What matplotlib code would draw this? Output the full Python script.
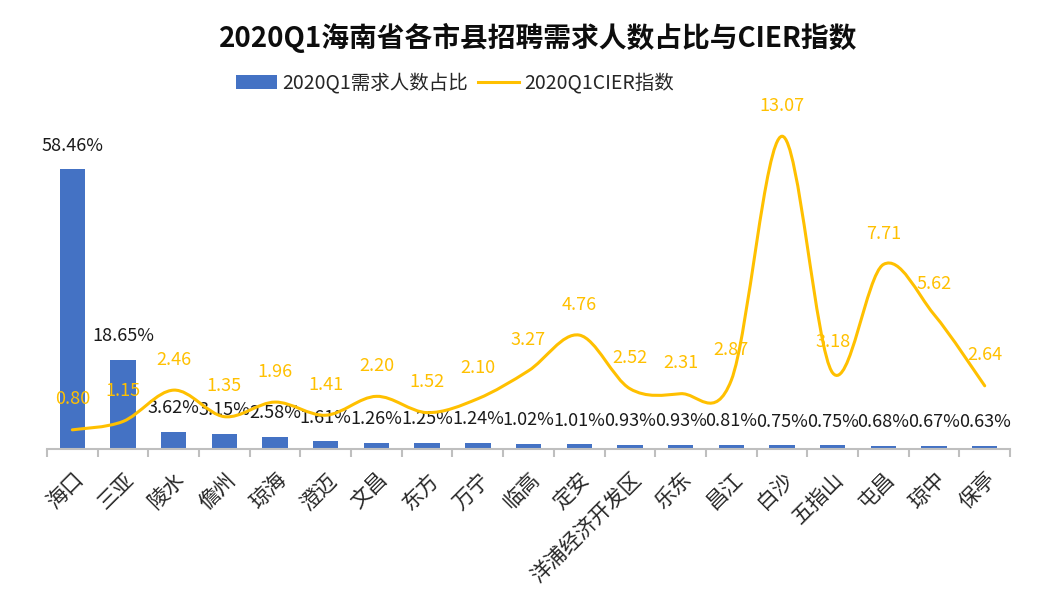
import matplotlib
matplotlib.use("Agg")
import matplotlib.pyplot as plt
from matplotlib.path import Path
from matplotlib.patches import PathPatch
from matplotlib.lines import Line2D
from matplotlib.patches import Patch

plt.rcParams['font.family'] = ['Noto Sans CJK SC', 'DejaVu Sans']

categories = ["海口", "三亚", "陵水", "儋州", "琼海", "澄迈", "文昌", "东方", "万宁", "临高",
              "定安", "洋浦经济开发区", "乐东", "昌江", "白沙", "五指山", "屯昌", "琼中", "保亭"]
demand_share = [58.46, 18.65, 3.62, 3.15, 2.58, 1.61, 1.26, 1.25, 1.24, 1.02,
                1.01, 0.93, 0.93, 0.81, 0.75, 0.75, 0.68, 0.67, 0.63]
cier_index = [0.80, 1.15, 2.46, 1.35, 1.96, 1.41, 2.20, 1.52, 2.10, 3.27,
              4.76, 2.52, 2.31, 2.87, 13.07, 3.18, 7.71, 5.62, 2.64]

title = "2020Q1海南省各市县招聘需求人数占比与CIER指数"
bar_name = "2020Q1需求人数占比"
line_name = "2020Q1CIER指数"

bar_color = "#4472C4"
line_color = "#FFC000"
axis_color = "#BFBFBF"

fig = plt.figure(figsize=(10.44, 5.98), dpi=100)
ax = fig.add_axes([0.045, 0.2492, 0.9225, 0.5602])
x = list(range(len(categories)))

ax.bar(x, demand_share, width=0.5, color=bar_color, zorder=2)
ax.set_xlim(-0.5, len(categories) - 0.5)
ax.set_ylim(0, 70)
for sp in ["top", "right", "left"]:
    ax.spines[sp].set_visible(False)
ax.spines["bottom"].set_color(axis_color)
ax.spines["bottom"].set_linewidth(1.5)
ax.set_yticks([])
ax.set_xticks([i - 0.5 for i in range(len(categories) + 1)])
ax.set_xticklabels([])
ax.tick_params(axis="x", which="major", length=6, width=1.5, color=axis_color, direction="out")
ax.set_xticks(x, minor=True)
ax.set_xticklabels(categories, minor=True, rotation=45, ha="right", va="top",
                   rotation_mode="anchor", fontsize=15, color="#262626")
ax.tick_params(axis="x", which="minor", length=0, pad=14)

for xi, v in zip(x, demand_share):
    ax.annotate(f"{v:.2f}%", (xi, v), xytext=(0, 17), textcoords="offset points",
                ha="center", va="center", fontsize=13, color="#1a1a1a", zorder=5)

ax2 = ax.twinx()
ax2.set_ylim(0, 14)
ax2.set_xlim(ax.get_xlim())
ax2.axis("off")

# smooth curve (Catmull-Rom style Bezier, like Excel smoothed line)
pts = list(zip(x, cier_index))
n = len(pts)
verts = [pts[0]]
codes = [Path.MOVETO]
for i in range(n - 1):
    p0 = pts[max(i - 1, 0)]
    p1 = pts[i]
    p2 = pts[i + 1]
    p3 = pts[min(i + 2, n - 1)]
    c1 = (p1[0] + (p2[0] - p0[0]) / 6, p1[1] + (p2[1] - p0[1]) / 6)
    c2 = (p2[0] - (p3[0] - p1[0]) / 6, p2[1] - (p3[1] - p1[1]) / 6)
    verts += [c1, c2, p2]
    codes += [Path.CURVE4] * 3
ax2.add_patch(PathPatch(Path(verts, codes), facecolor="none", edgecolor=line_color,
                        lw=2.2, zorder=3, capstyle="round", joinstyle="round"))

for xi, v in zip(x, cier_index):
    ax2.annotate(f"{v:.2f}", (xi, v), xytext=(0, 22), textcoords="offset points",
                 ha="center", va="center", fontsize=13, color=line_color, zorder=5)

fig.text(538 / 1044, 1 - 38 / 598, title, ha="center", va="center", fontsize=20,
         fontweight="bold", color="#0d0d0d")

handles = [Patch(facecolor=bar_color, edgecolor="none"),
           Line2D([0], [0], color=line_color, lw=2.2)]
fig.legend(handles, [bar_name, line_name], loc="center",
           bbox_to_anchor=(455 / 1044, 1 - 83 / 598), ncol=2, frameon=False,
           fontsize=14, handlelength=2.1, handleheight=0.7, columnspacing=0.5,
           handletextpad=0.3, labelcolor="#262626")

fig.savefig("out.png", dpi=100)
